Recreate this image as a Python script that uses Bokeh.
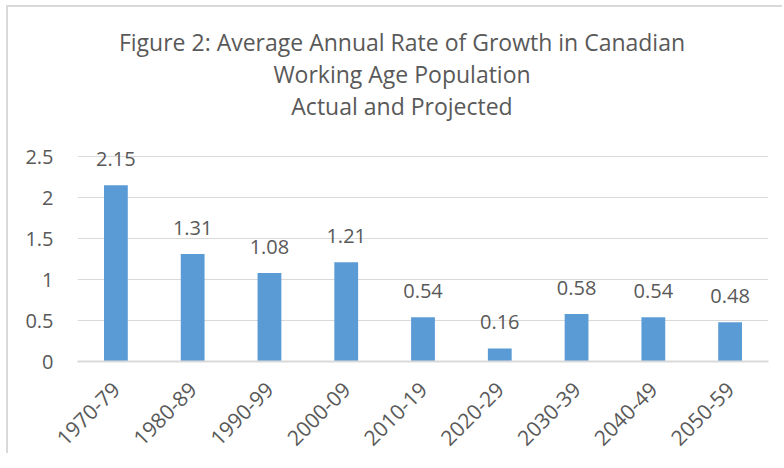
from bokeh.plotting import figure
from bokeh.models import ColumnDataSource, FactorRange, Range1d, FixedTicker, LabelSet, Label
from bokeh.core.properties import value
from bokeh.embed import file_html
from bokeh.resources import INLINE
from math import pi

periods = ["1970-79", "1980-89", "1990-99", "2000-09", "2010-19",
           "2020-29", "2030-39", "2040-49", "2050-59"]
growth = [2.15, 1.31, 1.08, 1.21, 0.54, 0.16, 0.58, 0.54, 0.48]
y_ticks = [0, 0.5, 1, 1.5, 2, 2.5]
y_tick_labels = ["0", "0.5", "1", "1.5", "2", "2.5"]
title_lines = ["Figure 2: Average Annual Rate of Growth in Canadian",
               "Working Age Population",
               "Actual and Projected"]

TXT = "#595959"
GRID = "#D9D9D9"
FONT = "Open Sans"
PX_PER_UNIT = 82.0
FRAME_H = 354

src = ColumnDataSource(dict(x=periods, y=growth, lab=[f"{v:.2f}" for v in growth]))

p = figure(width=776, height=448, x_range=FactorRange(*periods),
           y_range=Range1d(0, FRAME_H / PX_PER_UNIT),
           output_backend="svg", toolbar_location=None, title=None,
           min_border_left=69, min_border_right=16, min_border_top=0, min_border_bottom=94)
p.styles = {"margin-left": "8px", "margin-top": "7px",
            "box-shadow": "-2px -2px 0 #D9D9D9"}
p.outline_line_color = None
p.background_fill_color = "white"
p.border_fill_color = "white"

p.vbar(x="x", top="y", width=0.31, source=src, fill_color="#5B9BD5", line_color=None)

labels = LabelSet(x="x", y="y", text="lab", source=src, text_align="center",
                  text_baseline="alphabetic", y_offset=19, text_font=value(FONT),
                  text_font_size="20px", text_color=TXT)
p.add_layout(labels)

p.xgrid.grid_line_color = None
p.ygrid.grid_line_color = GRID
p.ygrid.ticker = FixedTicker(ticks=y_ticks)

p.yaxis.ticker = FixedTicker(ticks=y_ticks)
p.yaxis.major_label_overrides = {t: s for t, s in zip(y_ticks, y_tick_labels)}
p.yaxis.axis_line_color = None
p.yaxis.major_tick_line_color = None
p.yaxis.minor_tick_line_color = None
p.yaxis.major_tick_out = 0
p.yaxis.major_tick_in = 0
p.yaxis.major_label_standoff = 24
p.yaxis.major_label_text_font = FONT
p.yaxis.major_label_text_font_size = "20px"
p.yaxis.major_label_text_color = TXT

p.xaxis.axis_line_color = GRID
p.xaxis.axis_line_width = 2
p.xaxis.major_tick_line_color = None
p.xaxis.major_tick_out = 0
p.xaxis.major_tick_in = 0
p.xaxis.major_label_standoff = 24
p.xaxis.major_label_orientation = pi / 4
p.xaxis.major_label_text_font = FONT
p.xaxis.major_label_text_font_size = "21px"
p.xaxis.major_label_text_color = TXT

# title baselines measured from the zero line, in screen px, converted to data units
title_y = [(361 - 41) / PX_PER_UNIT, (361 - 73) / PX_PER_UNIT, (361 - 105) / PX_PER_UNIT]
for t, yv in zip(title_lines, title_y):
    p.add_layout(Label(x=4.5, y=yv, text=t, text_align="center", text_baseline="alphabetic",
                       x_offset=-21, text_font=FONT, text_font_size="23px", text_color=TXT))

open("out.html", "w").write(file_html(p, INLINE))
